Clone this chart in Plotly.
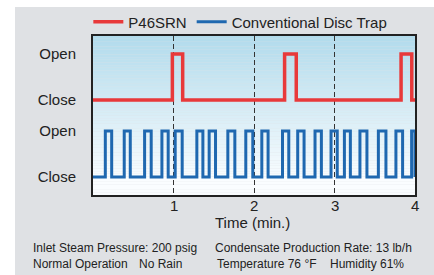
import plotly.graph_objects as go

# ---- data (minutes) ----
red_rise = [0.986, 2.380, 3.827]
red_fall = [1.114, 2.525, 3.960]
blue_rise = [0.153, 0.388, 0.641, 0.856, 1.021, 1.290, 1.443, 1.675, 1.898, 2.097,
             2.354, 2.543, 2.758, 2.957, 3.123, 3.316, 3.545, 3.763, 3.958]
blue_fall = [0.232, 0.463, 0.723, 0.934, 1.108, 1.365, 1.522, 1.762, 1.985, 2.175,
             2.432, 2.622, 2.837, 3.034, 3.197, 3.403, 3.639, 3.846, 4.0]
x_ticks = [1, 2, 3, 4]
x_tick_labels = ["1", "2", "3", "4"]
state_levels = [0, 1, 1.67, 2.67]
state_labels = ["Close", "Open", "Close", "Open"]
red_low, red_high = 1.67, 2.67
blue_low, blue_high = 0, 1
t_start, t_end = 0, 4


def steps(rise, fall, low, high):
    xs, ys = [t_start], [low]
    for r, f in zip(rise, fall):
        xs += [r, f]
        ys += [high, low]
    xs.append(t_end)
    ys.append(ys[-1])
    return xs, ys


rx, ry = steps(red_rise, red_fall, red_low, red_high)
bx, by = steps(blue_rise, blue_fall, blue_low, blue_high)

fig = go.Figure()
fig.add_trace(go.Scatter(x=rx, y=ry, mode="lines", line_shape="hv", name="P46SRN",
                         line=dict(color="#e8393a", width=3.5)))
fig.add_trace(go.Scatter(x=bx, y=by, mode="lines", line_shape="hv", name="Conventional Disc Trap",
                         line=dict(color="#1f68b0", width=3)))

shapes = []
# gradient background of plot area
n = 60
top = (178, 219, 236)
bot = (250, 253, 255)
for i in range(n):
    f = i / (n - 1)
    c = tuple(round(top[k] + (bot[k] - top[k]) * min(1, f / 0.92)) for k in range(3))
    shapes.append(dict(type="rect", xref="x domain", yref="y domain", x0=0, x1=1,
                       y0=1 - (i + 1) / n, y1=1 - i / n, line=dict(width=0),
                       fillcolor="rgb(%d,%d,%d)" % c, layer="below"))

txt = dict(family="Liberation Sans, Arial, sans-serif", color="#222")
ann = []


def add(text, x, y, size=12, xanchor="left", xref="paper"):
    ann.append(dict(text=text, x=x, y=y, xref=xref, yref="paper", showarrow=False,
                    xanchor=xanchor, yanchor="middle", font=dict(size=size, **txt)))


# x tick labels placed through the x scale
for tv, tl in zip(x_ticks, x_tick_labels):
    add(tl, tv, -0.063, size=15, xanchor="center", xref="x")

add("Time (min.)", 0.494, -0.170, size=15, xanchor="center")
add("Inlet Steam Pressure: 200 psig", -0.194, -0.333)
add("Normal Operation", -0.194, -0.437)
add("No Rain", 0.137, -0.437)
add("Condensate Production Rate: 13 lb/h", 0.374, -0.333)
add("Temperature 76 °F", 0.379, -0.437)
add("Humidity 61%", 0.731, -0.437)

# gray panel = figure paper; page offset 15px left / 7px top leaves a white strip
fig.update_layout(
    width=419, height=268,
    margin=dict(l=78, r=19, t=29, b=80, autoexpand=False),
    paper_bgcolor="#dfe1e4",
    plot_bgcolor="rgba(0,0,0,0)",
    font=dict(size=15, **txt),
    shapes=shapes,
    annotations=ann,
    showlegend=True,
    legend=dict(orientation="h", x=-0.0145, xanchor="left", y=1.088, yanchor="middle",
                bgcolor="rgba(0,0,0,0)", font=dict(size=15, **txt)),
    xaxis=dict(range=[t_start, t_end], tickvals=x_ticks, showticklabels=False,
               showgrid=True, gridcolor="#333", griddash="5px,3px", gridwidth=1,
               showline=True, mirror=True, linecolor="#222", linewidth=2,
               ticks="", zeroline=False, automargin=False),
    yaxis=dict(range=[-0.39, 3.06], tickvals=state_levels, ticktext=state_labels,
               showgrid=False, zeroline=False, showline=True, mirror=True,
               linecolor="#222", linewidth=2, ticks="", ticklabelstandoff=12, automargin=False),
)

fig.write_html("out.html", config={"displayModeBar": False},
               post_script=("document.body.style.margin='0';"
                            "document.body.style.padding='7px 0 0 15px';"
                            "document.body.style.background='white';"
                            "document.body.style.overflow='hidden';"))
